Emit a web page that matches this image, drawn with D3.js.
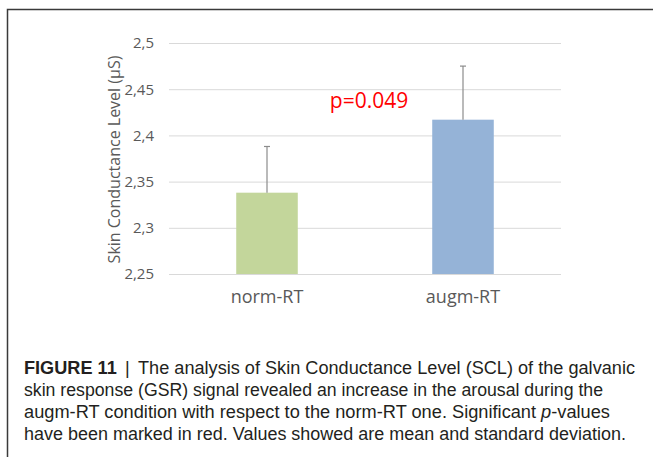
<!DOCTYPE html>
<meta charset="utf-8">
<style>
  body { margin: 0; background: #fff; }
  .grid line { stroke: #d9d9d9; stroke-width: 1px; }
  .grid text { fill: #595959; font-family: 'Open Sans', sans-serif; font-size: 15px; }
  .cat { fill: #595959; font-family: 'Open Sans', sans-serif; font-size: 18px; }
  .caption { fill: #231f20; font-family: 'Liberation Sans', Arial, sans-serif; font-size: 17.5px; }
</style>
<body>
<script src="https://d3js.org/d3.v7.min.js"></script>
<script>

// data
var groups = ["norm-RT", "augm-RT"];
var means = [2.338, 2.417];
var sds = [0.050, 0.058];
var colors = ["#c3d69b", "#95b3d7"];
var yTicks = [2.25, 2.3, 2.35, 2.4, 2.45, 2.5];
var pText = "p=0.049";
var pValueY = 2.43;
var yTitle = "Skin Conductance Level (\u00b5S)";
var captionHead = "FIGURE 11";
var captionLines = [
  "The analysis of Skin Conductance Level (SCL) of the galvanic",
  "skin response (GSR) signal revealed an increase in the arousal during the",
  "augm-RT condition with respect to the norm-RT one. Significant p-values",
  "have been marked in red. Values showed are mean and standard deviation."
];

var W = 653, H = 457;
var plot = { left: 169, right: 561, top: 43, bottom: 274 };

var svg = d3.select("body").append("svg")
  .attr("width", W)
  .attr("height", H);

// frame around the figure
svg.append("rect")
  .attr("x", 7.5).attr("y", 9.5)
  .attr("width", W + 20).attr("height", H + 20)
  .attr("fill", "none")
  .attr("stroke", "#3a3a3a")
  .attr("stroke-width", 1.5);

var x = d3.scaleBand()
  .domain(groups)
  .range([plot.left, plot.right])
  .paddingInner(0.686)
  .paddingOuter(0.343);

var y = d3.scaleLinear()
  .domain([2.25, 2.5])
  .range([plot.bottom, plot.top]);

// gridlines + y tick labels
var yAxis = svg.append("g")
  .attr("class", "grid")
  .attr("transform", "translate(" + plot.left + ",0)")
  .call(d3.axisLeft(y)
    .tickValues(yTicks)
    .tickSize(-(plot.right - plot.left))
    .tickPadding(15)
    .tickFormat(function (d) { return String(+d.toFixed(2)).replace(".", ","); }));
yAxis.select(".domain").remove();

// bars
svg.selectAll(".bar")
  .data(groups)
  .join("rect")
    .attr("class", "bar")
    .attr("x", function (d) { return x(d); })
    .attr("width", x.bandwidth())
    .attr("y", function (d, i) { return y(means[i]); })
    .attr("height", function (d, i) { return y(2.25) - y(means[i]); })
    .attr("fill", function (d, i) { return colors[i]; });

// error bars (upper half only)
var err = svg.selectAll(".err")
  .data(groups)
  .join("g")
    .attr("class", "err")
    .attr("stroke", "#8c8c8c")
    .attr("stroke-width", 1.2);
err.append("line")
  .attr("x1", function (d) { return x(d) + x.bandwidth() / 2; })
  .attr("x2", function (d) { return x(d) + x.bandwidth() / 2; })
  .attr("y1", function (d, i) { return y(means[i]); })
  .attr("y2", function (d, i) { return y(means[i] + sds[i]); });
err.append("line")
  .attr("x1", function (d) { return x(d) + x.bandwidth() / 2 - 3; })
  .attr("x2", function (d) { return x(d) + x.bandwidth() / 2 + 3; })
  .attr("y1", function (d, i) { return y(means[i] + sds[i]); })
  .attr("y2", function (d, i) { return y(means[i] + sds[i]); });

// category labels
svg.selectAll(".cat")
  .data(groups)
  .join("text")
    .attr("class", "cat")
    .attr("x", function (d) { return x(d) + x.bandwidth() / 2; })
    .attr("y", plot.bottom + 29)
    .attr("text-anchor", "middle")
    .text(function (d) { return d; });

// y axis title
svg.append("text")
  .attr("transform", "translate(120," + ((plot.top + plot.bottom) / 2 + 1) + ") rotate(-90)")
  .attr("text-anchor", "middle")
  .attr("fill", "#595959")
  .style("font-family", "'Open Sans', sans-serif")
  .style("font-size", "16px")
  .text(yTitle);

// significance label
var midX = (x(groups[0]) + x(groups[1]) + x.bandwidth()) / 2;
svg.append("text")
  .attr("x", midX + 4)
  .attr("y", y(pValueY))
  .attr("text-anchor", "middle")
  .attr("fill", "#ff0000")
  .style("font-family", "'Open Sans', sans-serif")
  .style("font-size", "21px")
  .text(pText);

// caption
var capX = 24, capY = 374, capStep = 22;
var lineWidths = [611, 579, 586, 602];
var first = svg.append("text")
  .attr("class", "caption")
  .attr("x", capX)
  .attr("y", capY);
first.append("tspan").attr("font-weight", "bold").text(captionHead);
first.append("tspan").attr("dx", 8).text("|");
first.append("tspan").attr("dx", 8).text(captionLines[0]);
first.attr("textLength", lineWidths[0]).attr("lengthAdjust", "spacingAndGlyphs");

captionLines.slice(1).forEach(function (line, i) {
  var t = svg.append("text")
    .attr("class", "caption")
    .attr("x", capX)
    .attr("y", capY + capStep * (i + 1))
    .attr("textLength", lineWidths[i + 1])
    .attr("lengthAdjust", "spacingAndGlyphs");
  if (line.indexOf("p-values") >= 0) {
    var parts = line.split("p-values");
    t.append("tspan").text(parts[0]);
    t.append("tspan").attr("font-style", "italic").text("p");
    t.append("tspan").text("-values" + parts[1]);
  } else {
    t.text(line);
  }
});

</script>
</body>
